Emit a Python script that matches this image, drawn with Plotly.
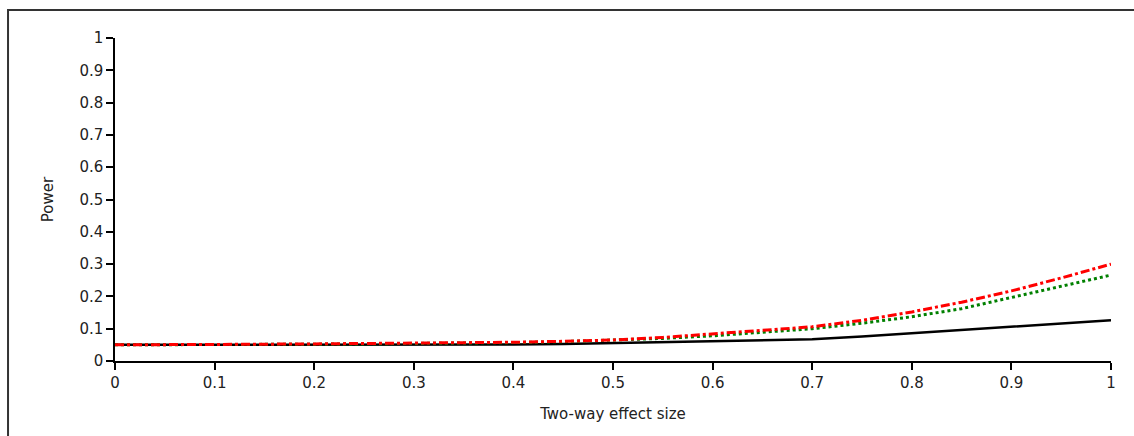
import plotly.graph_objects as go

effect_size = [0.0, 0.05, 0.1, 0.15, 0.2, 0.25, 0.3, 0.35, 0.4, 0.45, 0.5,
               0.55, 0.6, 0.65, 0.7, 0.75, 0.8, 0.85, 0.9, 0.95, 1.0]
power_black = [0.05, 0.05, 0.05, 0.05, 0.05, 0.05, 0.05, 0.05, 0.051, 0.053, 0.056,
               0.058, 0.062, 0.064, 0.067, 0.076, 0.086, 0.095, 0.105, 0.115, 0.126]
power_green = [0.05, 0.05, 0.05, 0.051, 0.052, 0.053, 0.054, 0.055, 0.057, 0.06, 0.064,
               0.07, 0.078, 0.088, 0.10, 0.117, 0.137, 0.162, 0.197, 0.232, 0.266]
power_red = [0.05, 0.05, 0.051, 0.052, 0.053, 0.054, 0.055, 0.056, 0.058, 0.061, 0.065,
             0.073, 0.084, 0.094, 0.106, 0.126, 0.152, 0.182, 0.217, 0.257, 0.30]

tick_vals = [0, 0.1, 0.2, 0.3, 0.4, 0.5, 0.6, 0.7, 0.8, 0.9, 1]
tick_text = ["0", "0.1", "0.2", "0.3", "0.4", "0.5", "0.6", "0.7", "0.8", "0.9", "1"]

fig = go.Figure()
fig.add_trace(go.Scatter(x=effect_size, y=power_black, mode="lines",
                         line=dict(color="#000000", width=2.5), showlegend=False))
fig.add_trace(go.Scatter(x=effect_size, y=power_green, mode="lines",
                         line=dict(color="#008000", width=3, dash="dot"), showlegend=False))
fig.add_trace(go.Scatter(x=effect_size, y=power_red, mode="lines",
                         line=dict(color="#ff0000", width=3, dash="dashdot"), showlegend=False))

axis_font = dict(family="DejaVu Sans, Verdana, sans-serif", size=15, color="#222222")

fig.update_layout(
    width=1134, height=436,
    margin=dict(l=115, r=23, t=38, b=75),
    paper_bgcolor="white", plot_bgcolor="white",
    font=axis_font,
    xaxis=dict(range=[0, 1], tickvals=tick_vals, ticktext=tick_text,
               showgrid=False, zeroline=False, showline=True, linecolor="#000000",
               linewidth=1.5, ticks="outside", ticklen=7, tickcolor="#000000",
               tickwidth=1.5, tickfont=axis_font,
               title=dict(text="Two-way effect size", font=axis_font, standoff=18)),
    yaxis=dict(range=[0, 1], tickvals=tick_vals, ticktext=tick_text,
               showgrid=False, zeroline=False, showline=True, linecolor="#000000",
               linewidth=1.5, ticks="outside", ticklen=7, tickcolor="#000000",
               tickwidth=1.5, tickfont=axis_font,
               title=dict(text="Power", font=axis_font, standoff=22)),
    shapes=[dict(type="rect", xref="paper", yref="paper",
                 x0=-0.1074, x1=1.1, y0=-0.4, y1=1.0867,
                 line=dict(color="#333333", width=2), fillcolor="rgba(0,0,0,0)",
                 layer="below")],
)

fig.write_html("out.html")
